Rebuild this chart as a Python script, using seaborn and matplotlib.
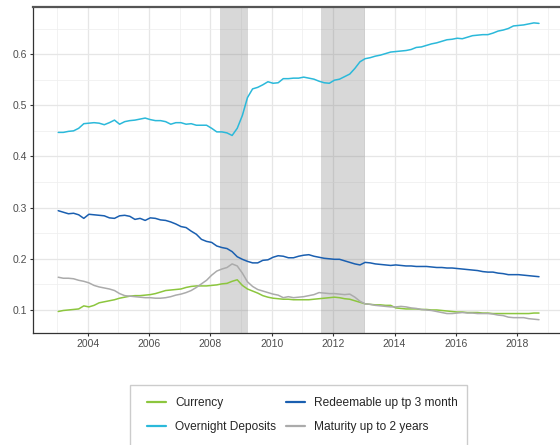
import numpy as np
import pandas as pd
import matplotlib
matplotlib.use("Agg")
import matplotlib.pyplot as plt
import matplotlib.patches as mpatches
from matplotlib.ticker import MultipleLocator
import seaborn as sns

# Bi-monthly observations, Jan 2003 .. Sep 2018 (decimal years, mid-month)
months = np.arange(0, 189, 2)
years = 2003 + (months + 0.5) / 12

currency = [
    0.097, 0.099, 0.100, 0.101, 0.102, 0.108,
    0.106, 0.109, 0.114, 0.116, 0.118, 0.120,
    0.123, 0.125, 0.127, 0.128, 0.128, 0.129,
    0.130, 0.132, 0.135, 0.138, 0.139, 0.140,
    0.141, 0.144, 0.146, 0.147, 0.147, 0.147,
    0.148, 0.149, 0.151, 0.152, 0.156, 0.159,
    0.148, 0.141, 0.137, 0.133, 0.128, 0.125,
    0.123, 0.122, 0.121, 0.121, 0.120, 0.120,
    0.120, 0.120, 0.121, 0.122, 0.123, 0.124,
    0.125, 0.124, 0.122, 0.121, 0.118, 0.115,
    0.112, 0.111, 0.110, 0.110, 0.109, 0.109,
    0.104, 0.103, 0.102, 0.102, 0.102, 0.101,
    0.101, 0.100, 0.100, 0.099, 0.098, 0.097,
    0.096, 0.096, 0.095, 0.095, 0.095, 0.094,
    0.094, 0.093, 0.093, 0.093, 0.093, 0.093,
    0.093, 0.093, 0.093, 0.094, 0.094,
]
overnight = [
    0.447, 0.447, 0.449, 0.450, 0.455, 0.464,
    0.465, 0.466, 0.465, 0.462, 0.466, 0.471,
    0.463, 0.468, 0.470, 0.471, 0.473, 0.475,
    0.472, 0.470, 0.470, 0.468, 0.463, 0.466,
    0.466, 0.463, 0.464, 0.461, 0.461, 0.461,
    0.455, 0.448, 0.448, 0.446, 0.441, 0.455,
    0.480, 0.515, 0.532, 0.535, 0.540, 0.546,
    0.543, 0.544, 0.552, 0.552, 0.553, 0.553,
    0.555, 0.553, 0.551, 0.547, 0.544, 0.543,
    0.549, 0.551, 0.556, 0.561, 0.572, 0.585,
    0.591, 0.593, 0.596, 0.598, 0.601, 0.604,
    0.605, 0.606, 0.607, 0.609, 0.613, 0.614,
    0.617, 0.620, 0.622, 0.625, 0.628, 0.629,
    0.631, 0.630, 0.633, 0.636, 0.637, 0.638,
    0.638, 0.641, 0.645, 0.647, 0.650, 0.655,
    0.656, 0.657, 0.659, 0.661, 0.660,
]
redeemable = [
    0.294, 0.291, 0.288, 0.289, 0.286, 0.279,
    0.287, 0.286, 0.285, 0.284, 0.280, 0.279,
    0.284, 0.285, 0.283, 0.277, 0.279, 0.275,
    0.280, 0.279, 0.276, 0.275, 0.272, 0.268,
    0.263, 0.261, 0.254, 0.248, 0.238, 0.234,
    0.232, 0.225, 0.222, 0.220, 0.214, 0.204,
    0.199, 0.195, 0.192, 0.192, 0.197, 0.198,
    0.203, 0.206, 0.205, 0.202, 0.202, 0.205,
    0.207, 0.208, 0.205, 0.203, 0.201, 0.200,
    0.199, 0.199, 0.196, 0.193, 0.190, 0.188,
    0.193, 0.192, 0.190, 0.189, 0.188, 0.187,
    0.188, 0.187, 0.186, 0.186, 0.185, 0.185,
    0.185, 0.184, 0.183, 0.183, 0.182, 0.182,
    0.181, 0.180, 0.179, 0.178, 0.177, 0.175,
    0.174, 0.174, 0.172, 0.171, 0.169, 0.169,
    0.169, 0.168, 0.167, 0.166, 0.165,
]
maturity = [
    0.164, 0.162, 0.162, 0.161, 0.158, 0.156,
    0.153, 0.148, 0.145, 0.143, 0.141, 0.138,
    0.132, 0.128, 0.127, 0.126, 0.125, 0.124,
    0.124, 0.123, 0.123, 0.124, 0.126, 0.129,
    0.131, 0.134, 0.138, 0.144, 0.151, 0.158,
    0.168, 0.176, 0.180, 0.183, 0.190, 0.186,
    0.172, 0.155, 0.146, 0.140, 0.137, 0.134,
    0.131, 0.129, 0.124, 0.126, 0.124, 0.125,
    0.126, 0.128, 0.130, 0.134, 0.133, 0.132,
    0.132, 0.131, 0.130, 0.131, 0.125, 0.117,
    0.112, 0.111, 0.109, 0.108, 0.107, 0.106,
    0.106, 0.107, 0.106, 0.104, 0.103, 0.101,
    0.100, 0.099, 0.097, 0.095, 0.093, 0.093,
    0.094, 0.095, 0.094, 0.094, 0.093, 0.093,
    0.093, 0.092, 0.090, 0.089, 0.086, 0.085,
    0.085, 0.085, 0.083, 0.082, 0.081,
]

series_names = ["Currency", "Overnight Deposits",
                "Redeemable up tp 3 month", "Maturity up to 2 years"]
series_colors = ["#8cc63e", "#2bb9da", "#1a5fb0", "#ababab"]

# shaded periods (start, end) in decimal years
shade_periods = [(2008.30, 2009.23), (2011.61, 2013.03)]

x_ticks = [2004, 2006, 2008, 2010, 2012, 2014, 2016, 2018]
y_ticks = [0.1, 0.2, 0.3, 0.4, 0.5, 0.6]
y_labels = ["0.1", "0.2", "0.3", "0.4", "0.5", "0.6"]

# long-form table for seaborn
df = pd.concat([
    pd.DataFrame({"year": years, "share": vals, "series": name})
    for name, vals in zip(series_names, [currency, overnight, redeemable, maturity])
], ignore_index=True)

sns.set_theme(style="white")
plt.rcParams["font.family"] = ["Liberation Sans", "DejaVu Sans"]

W, H = 560, 445
fig = plt.figure(figsize=(W / 100, H / 100), dpi=100)
ax = fig.add_axes([33 / W, 1 - 333 / H, (563 - 33) / W, (333 - 6.5) / H])

# grid
ax.xaxis.set_minor_locator(MultipleLocator(1))
ax.yaxis.set_minor_locator(MultipleLocator(0.05))
ax.grid(which="major", color="#e6e6e6", lw=0.9, zorder=0)
ax.grid(which="minor", color="#efefef", lw=0.55, zorder=0)
ax.set_axisbelow(True)

for start, end in shade_periods:
    ax.axvspan(start, end, color="#7f7f7f", alpha=0.3, lw=0, zorder=1)

sns.lineplot(data=df, x="year", y="share", hue="series", hue_order=series_names,
             palette=series_colors, lw=1.1, ax=ax, zorder=3)

ax.set_xlim(2002.22, 2019.49)
ax.set_ylim(0.055, 0.693)
ax.set_xticks(x_ticks)
ax.set_xticklabels([str(y) for y in x_ticks])
ax.set_yticks(y_ticks)
ax.set_yticklabels(y_labels)
ax.set_xlabel("")
ax.set_ylabel("")
ax.tick_params(which="major", length=2.5, width=0.8, color="#333333",
               labelsize=7.5, labelcolor="#4d4d4d", pad=2,
               bottom=True, left=True)
ax.tick_params(which="minor", length=0)

for side in ["left", "bottom"]:
    ax.spines[side].set_color("#333333")
    ax.spines[side].set_linewidth(0.9)
ax.spines["top"].set_color("#555555")
ax.spines["top"].set_linewidth(1.6)
ax.spines["right"].set_visible(False)

handles, labels = ax.get_legend_handles_labels()
ax.get_legend().remove()
for h in handles:
    h.set_linewidth(1.6)
fig.legend(handles, labels, ncol=2, loc="upper left",
           bbox_to_anchor=(147 / W, 1 - 397 / H), frameon=False,
           fontsize=8.6, handlelength=1.6, handletextpad=0.75,
           columnspacing=0.85, labelspacing=1.0, borderpad=0,
           borderaxespad=0)

# legend frame (bottom edge runs off the image)
fig.patches.append(mpatches.Rectangle((130 / W, -10 / H), (467 - 130) / W,
                                      (H - 385 + 10) / H, transform=fig.transFigure,
                                      fill=False, edgecolor="#cccccc", lw=1.0))

fig.savefig("out.png", dpi=100)
